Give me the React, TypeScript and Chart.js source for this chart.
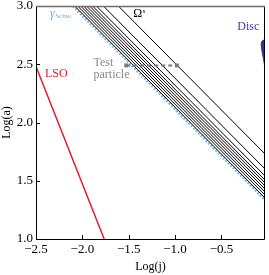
import React, { useEffect, useRef } from "react";
import { Chart, registerables } from "chart.js";

Chart.register(...registerables);

// ---- data ----
const xTicks = [-2.5, -2.0, -1.5, -1.0, -0.5];
const yTicks = [1.0, 1.5, 2.0, 2.5, 3.0];
const X_MIN = -2.5;
const X_MAX = -0.03;
const Y_MIN = 1.0;
const Y_MAX = 3.0;

// Omega^s family: log(j) where each line crosses log(a)=3, and log(a) at the right edge
const omegaTopLogJ = [-2.083, -2.051, -2.019, -1.987, -1.955, -1.922, -1.89, -1.848, -1.773, -1.612];
const omegaEndLogA = [1.352, 1.378, 1.403, 1.429, 1.455, 1.481, 1.506, 1.541, 1.601, 1.73];
const omegaEndLogJ = -0.03;

// Schwarzschild boundary
const schwLogJ = [-2.104, -0.03];
const schwLogA = [3.0, 1.335];

// LSO
const lsoLogJ = [-2.5, -1.765];
const lsoLogA = [2.48, 1.0];

// Test particle
const testLogJ = [-1.527, -0.981];
const testLogA = [2.49, 2.49];

// Disc outline
const discLogJ = [-0.072, -0.061, -0.04, -0.018, -0.018, -0.04, -0.061, -0.072];
const discLogA = [2.674, 2.7, 2.708, 2.708, 2.382, 2.519, 2.605, 2.674];

const SERIF = "'Liberation Serif', 'DejaVu Serif', serif";

const pts = (xs: number[], ys: number[]) => xs.map((x, i) => ({ x, y: ys[i] }));

const framePlugin = {
  id: "frame",
  afterDraw(chart: any) {
    const { ctx, chartArea: a, scales } = chart;
    const xs = scales.x;
    const ys = scales.y;
    ctx.save();
    // inward ticks
    ctx.strokeStyle = "#000";
    ctx.lineWidth = 1;
    ctx.beginPath();
    xTicks.forEach((v) => {
      const px = Math.round(xs.getPixelForValue(v)) + 0.5;
      ctx.moveTo(px, a.bottom);
      ctx.lineTo(px, a.bottom - 4);
    });
    yTicks.forEach((v) => {
      const py = Math.round(ys.getPixelForValue(v)) + 0.5;
      ctx.moveTo(a.left, py);
      ctx.lineTo(a.left + 4, py);
    });
    ctx.stroke();
    // borders
    ctx.beginPath();
    ctx.moveTo(a.left + 0.5, a.top);
    ctx.lineTo(a.left + 0.5, a.bottom + 0.5);
    ctx.lineTo(a.right - 0.5, a.bottom + 0.5);
    ctx.lineTo(a.right - 0.5, a.top);
    ctx.stroke();
    ctx.strokeStyle = "#6e6e6e";
    ctx.lineWidth = 1.5;
    ctx.beginPath();
    ctx.moveTo(a.left, a.top + 0.5);
    ctx.lineTo(a.right, a.top + 0.5);
    ctx.stroke();

    // labels
    const P = (x: number, y: number) => [xs.getPixelForValue(x), ys.getPixelForValue(y)];
    ctx.textBaseline = "middle";
    ctx.textAlign = "left";

    // gamma_Schw.
    const [gx, gy] = P(-2.35, 2.931);
    ctx.fillStyle = "#62aee6";
    ctx.font = `italic 12px ${SERIF}`;
    ctx.fillText("γ", gx, gy);
    const gw = ctx.measureText("γ").width;
    ctx.font = `7px ${SERIF}`;
    ctx.fillText("Schw.", gx + gw + 0.5, gy + 2);

    // Omega^s
    const [ox, oy] = P(-1.452, 2.931);
    ctx.fillStyle = "#000";
    ctx.font = `12px ${SERIF}`;
    ctx.fillText("Ω", ox, oy);
    const ow = ctx.measureText("Ω").width;
    ctx.font = `7px ${SERIF}`;
    ctx.fillText("s", ox + ow + 0.5, oy - 3);

    // Disc
    const [dx, dy] = P(-0.329, 2.82);
    ctx.fillStyle = "#4a34a8";
    ctx.font = `12px ${SERIF}`;
    ctx.fillText("Disc", dx, dy);

    // LSO
    const [lx, ly] = P(-2.404, 2.416);
    ctx.fillStyle = "#d8202e";
    ctx.font = `12px ${SERIF}`;
    ctx.fillText("LSO", lx, ly);

    // Test particle
    const [tx, ty] = P(-1.88, 2.511);
    ctx.fillStyle = "#8a8a8a";
    ctx.font = `12px ${SERIF}`;
    ctx.fillText("Test", tx, ty);
    const [px2, py2] = P(-1.88, 2.408);
    ctx.fillText("particle", px2, py2);

    ctx.restore();
  },
};

export default function App() {
  const ref = useRef<HTMLCanvasElement | null>(null);

  useEffect(() => {
    document.body.style.margin = "0";
    const canvas = ref.current;
    if (!canvas) return;

    const omegaSets = omegaTopLogJ.map((j0, i) => ({
      data: [
        { x: j0, y: Y_MAX },
        { x: omegaEndLogJ, y: omegaEndLogA[i] },
      ],
      showLine: true,
      borderColor: "#000",
      borderWidth: 1,
      pointRadius: 0,
      fill: false,
    }));

    const chart = new Chart(canvas, {
      type: "scatter",
      data: {
        datasets: [
          {
            data: pts(testLogJ, testLogA),
            showLine: true,
            borderColor: "#7a7a7a",
            backgroundColor: "#7a7a7a",
            borderWidth: 2,
            borderDash: [4, 3],
            pointStyle: "rect",
            pointRadius: 2.8,
            pointBorderWidth: 0,
          },
          {
            data: pts(discLogJ, discLogA),
            showLine: true,
            borderColor: "#4322a6",
            backgroundColor: "#4322a6",
            borderWidth: 1,
            pointRadius: 0,
            fill: "shape",
          } as any,
          {
            data: pts(lsoLogJ, lsoLogA),
            showLine: true,
            borderColor: "#d8202e",
            borderWidth: 1.5,
            pointRadius: 0,
          },
          ...omegaSets,
          {
            data: pts(schwLogJ, schwLogA),
            showLine: true,
            borderColor: "#7cbcec",
            borderWidth: 2.5,
            borderDash: [2, 1.5],
            pointRadius: 0,
          },
        ],
      },
      options: {
        animation: false,
        responsive: false,
        maintainAspectRatio: false,
        layout: { padding: { top: 6, right: 1, left: 0, bottom: 0 } },
        plugins: {
          legend: { display: false },
          tooltip: { enabled: false },
        },
        scales: {
          x: {
            type: "linear",
            min: X_MIN,
            max: X_MAX,
            afterBuildTicks: (s: any) => {
              s.ticks = xTicks.map((v) => ({ value: v }));
            },
            afterFit: (s: any) => {
              s.height = 36;
              s.paddingLeft = 0;
              s.paddingRight = 0;
            },
            grid: { display: false, drawTicks: false },
            border: { display: false },
            ticks: {
              padding: 3,
              color: "#000",
              font: { family: SERIF, size: 13 },
              maxRotation: 0,
              autoSkip: false,
              callback: (v: any) => Number(v).toFixed(1).replace("-", "−"),
            },
            title: {
              display: true,
              text: "Log(j)",
              color: "#000",
              font: { family: SERIF, size: 12 },
              padding: { top: 0, bottom: 1 },
            },
          },
          y: {
            type: "linear",
            min: Y_MIN,
            max: Y_MAX,
            afterBuildTicks: (s: any) => {
              s.ticks = yTicks.map((v) => ({ value: v }));
            },
            afterFit: (s: any) => {
              s.width = 36;
              s.paddingTop = 0;
              s.paddingBottom = 0;
            },
            grid: { display: false, drawTicks: false },
            border: { display: false },
            ticks: {
              padding: 3,
              color: "#000",
              font: { family: SERIF, size: 13 },
              autoSkip: false,
              callback: (v: any) => Number(v).toFixed(1),
            },
            title: {
              display: true,
              text: "Log(a)",
              color: "#000",
              font: { family: SERIF, size: 12 },
              padding: { top: 0, bottom: 0 },
            },
          },
        },
      },
      plugins: [framePlugin],
    });

    return () => chart.destroy();
  }, []);

  return (
    <div style={{ width: 269, height: 275 }}>
      <canvas ref={ref} width={269} height={275} style={{ display: "block" }} />
    </div>
  );
}
